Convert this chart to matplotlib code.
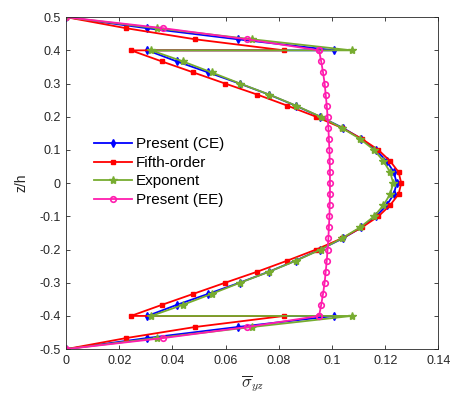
import matplotlib
matplotlib.use("Agg")
import matplotlib.pyplot as plt
import numpy as np

plt.rcParams['font.family'] = ['Liberation Sans', 'DejaVu Sans']
plt.rcParams['mathtext.fontset'] = 'cm'

# z/h positions: top layer, core, bottom layer
z_top = np.linspace(0.5, 0.4, 4)
z_mid = np.linspace(0.4, -0.4, 25)
z_bot = np.linspace(-0.4, -0.5, 4)

# Present (CE)
ce_top = [0.0, 0.0304, 0.0645, 0.1008]
ce_mid = [0.0306, 0.0416, 0.0535, 0.0652, 0.0763, 0.0863, 0.0955, 0.1040, 0.1110,
          0.1165, 0.1205, 0.1232, 0.1243, 0.1232, 0.1205, 0.1165, 0.1110, 0.1040,
          0.0955, 0.0863, 0.0763, 0.0652, 0.0535, 0.0416, 0.0306]
ce_bot = [0.1008, 0.0645, 0.0304, 0.0]

# Fifth-order
fo_top = [0.0, 0.0226, 0.0485, 0.0820]
fo_mid = [0.0244, 0.0360, 0.0479, 0.0598, 0.0719, 0.0832, 0.0940, 0.1036, 0.1112,
          0.1174, 0.1218, 0.1250, 0.1260, 0.1250, 0.1218, 0.1174, 0.1112, 0.1036,
          0.0940, 0.0832, 0.0719, 0.0598, 0.0479, 0.0360, 0.0244]
fo_bot = [0.0820, 0.0485, 0.0226, 0.0]

# Exponent
ex_top = [0.0, 0.0340, 0.0700, 0.1074]
ex_mid = [0.0320, 0.0439, 0.0548, 0.0654, 0.0764, 0.0865, 0.0957, 0.1036, 0.1105,
          0.1158, 0.1193, 0.1218, 0.1230, 0.1218, 0.1193, 0.1158, 0.1105, 0.1036,
          0.0957, 0.0865, 0.0764, 0.0654, 0.0548, 0.0439, 0.0320]
ex_bot = [0.1074, 0.0700, 0.0340, 0.0]

# Present (EE)
ee_top = [0.0, 0.0366, 0.0680, 0.0951]
ee_mid = [0.0951, 0.0959, 0.0966, 0.0972, 0.0976, 0.0980, 0.0983, 0.0986, 0.0988,
          0.0990, 0.0991, 0.0992, 0.0992, 0.0992, 0.0991, 0.0990, 0.0988, 0.0986,
          0.0983, 0.0980, 0.0976, 0.0972, 0.0966, 0.0959, 0.0951]
ee_bot = [0.0951, 0.0680, 0.0366, 0.0]

z = np.concatenate([z_top, z_mid, z_bot])

fig = plt.figure(figsize=(4.72, 3.99), dpi=100)
ax = fig.add_axes([0.140, 0.125, 0.789, 0.832])

ax.plot(np.concatenate([ce_top, ce_mid, ce_bot]), z, color='#0000FF', lw=1.3,
        marker='d', ms=4, label='Present (CE)')
ax.plot(np.concatenate([fo_top, fo_mid, fo_bot]), z, color='#FF0000', lw=1.3,
        marker='s', ms=3.5, label='Fifth-order')
ax.plot(np.concatenate([ex_top, ex_mid, ex_bot]), z, color='#77AC30', lw=1.3,
        marker='*', ms=6, label='Exponent')
ax.plot(np.concatenate([ee_top, ee_mid, ee_bot]), z, color='#FF1CAE', lw=1.3,
        marker='o', ms=4, mfc='none', mew=1.2, label='Present (EE)')

ax.set_xlim(0, 0.14)
ax.set_ylim(-0.5, 0.5)
ax.set_xticks(np.arange(0, 0.141, 0.02))
ax.set_xticklabels(['0', '0.02', '0.04', '0.06', '0.08', '0.1', '0.12', '0.14'])
yt = np.round(np.arange(-0.5, 0.51, 0.1), 1)
ax.set_yticks(yt)
ax.set_yticklabels(['0' if v == 0 else f'{v:g}' for v in yt])
ax.tick_params(direction='in', top=True, right=True, labelsize=9, length=3,
               width=0.6, colors='#262626', pad=4)
for s in ax.spines.values():
    s.set_linewidth(0.6)
    s.set_color('#262626')

ax.set_xlabel(r'$\overline{\sigma}_{yz}$', fontsize=12, labelpad=5, color='#262626')
ax.set_ylabel('z/h', fontsize=10, labelpad=8, color='#262626')

ax.legend(loc='center left', bbox_to_anchor=(0.075, 0.533), frameon=False,
          fontsize=11, handlelength=2.5, handletextpad=0.25, labelspacing=0.3,
          borderpad=0, borderaxespad=0)

fig.savefig('out.png', dpi=100)
